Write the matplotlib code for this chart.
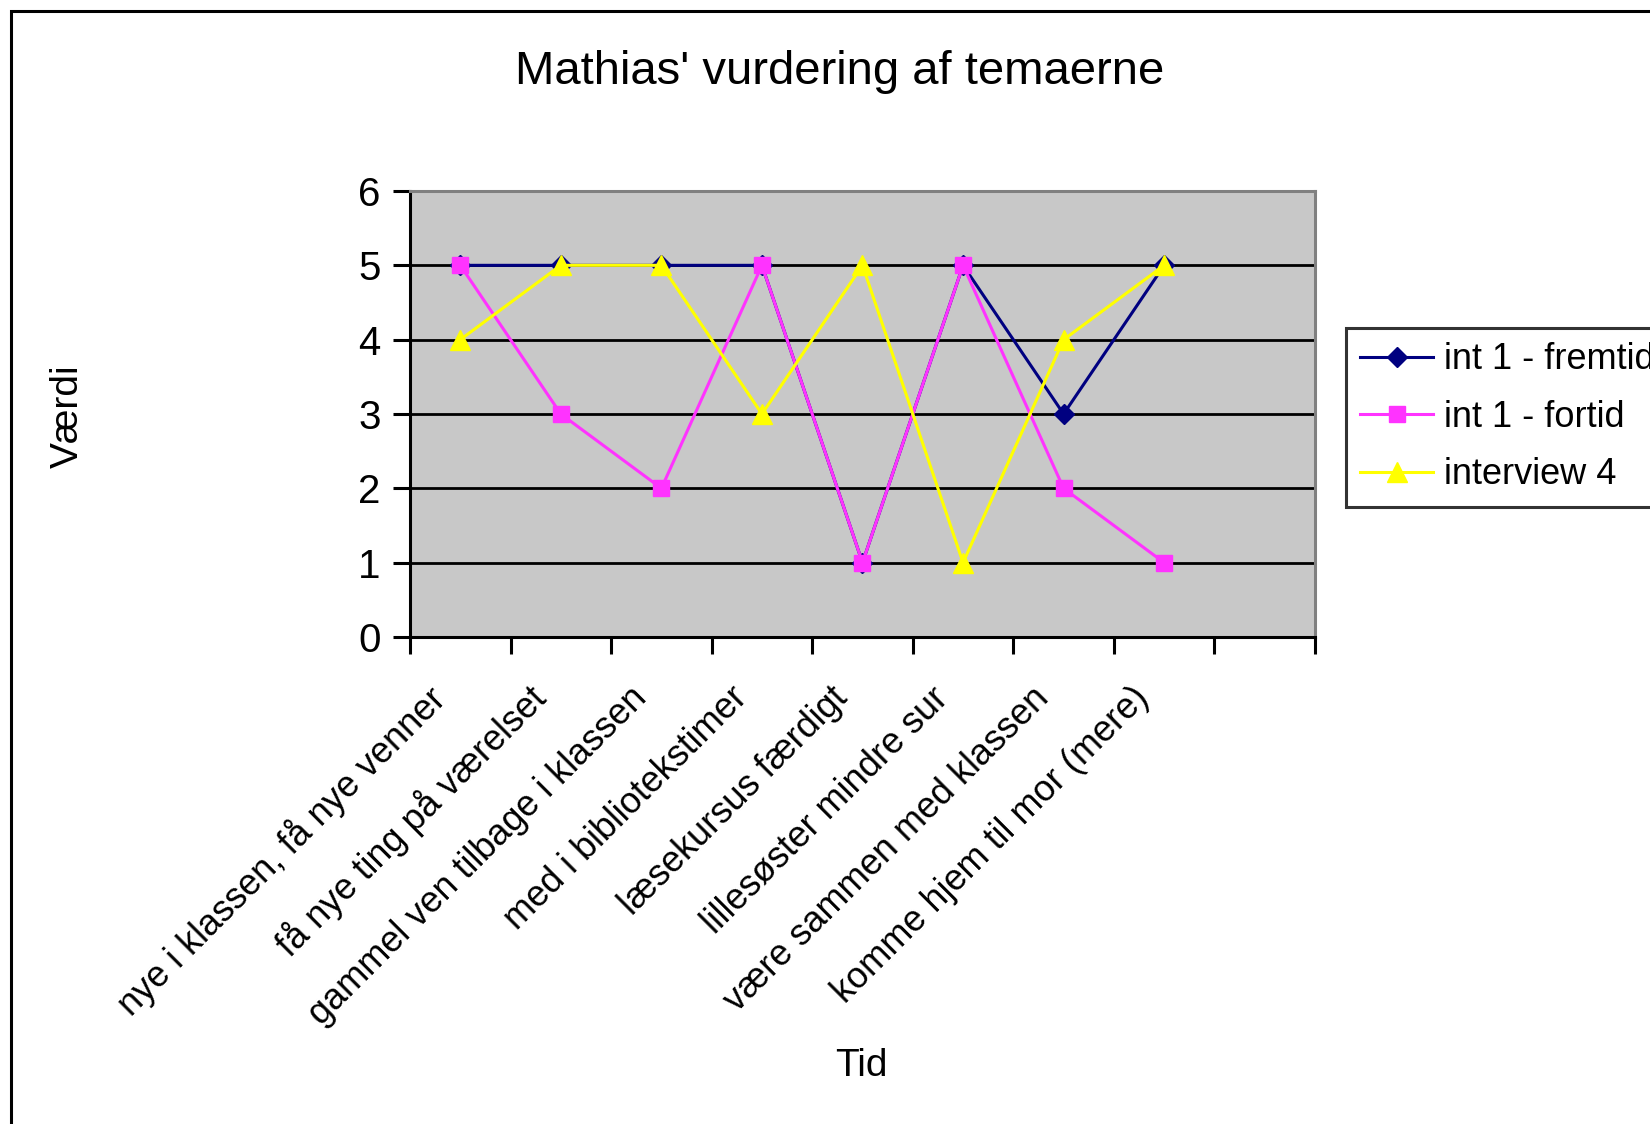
import numpy as np
import matplotlib
matplotlib.use('Agg')
import matplotlib.pyplot as plt
from matplotlib.patches import Rectangle

plt.rcParams['font.family'] = ['Liberation Sans', 'DejaVu Sans']

# categories (9 slots on the axis, last one empty)
categories = [
    'nye i klassen, få nye venner',
    'få nye ting på værelset',
    'gammel ven tilbage i klassen',
    'med i bibliotekstimer',
    'læsekursus færdigt',
    'lillesøster mindre sur',
    'være sammen med klassen',
    'komme hjem til mor (mere)',
]
n_slots = 9

fremtid = [5, 5, 5, 5, 1, 5, 3, 5]
fortid = [5, 3, 2, 5, 1, 5, 2, 1]
interview4 = [4, 5, 5, 3, 5, 1, 4, 5]

W, H = 1650, 1124
fig = plt.figure(figsize=(W / 100, H / 100), dpi=100)
fig.patch.set_facecolor('white')

# outer chart frame (cut at right and bottom)
fig.patches.append(Rectangle((11 / W, -0.1), 1.2, 1.1 - 11 / H, transform=fig.transFigure,
                             fill=False, edgecolor='black', linewidth=2.2))

ax = fig.add_axes([410 / W, 1 - 637 / H, (1315 - 410) / W, (637 - 191) / H])
ax.set_facecolor('#c8c8c8')

x = np.arange(len(categories)) + 0.5
ax.plot(x, fremtid, color='#000080', marker='D', markersize=10, linewidth=2.2,
        label='int 1 - fremtid', zorder=3)
ax.plot(x, fortid, color='#ff33ff', marker='s', markersize=12, linewidth=2.2,
        label='int 1 - fortid', zorder=4)
ax.plot(x, interview4, color='#ffff00', marker='^', markersize=14, linewidth=2.2,
        label='interview 4', zorder=5)

ax.set_xlim(0, n_slots)
ax.set_ylim(0, 6)
ax.set_yticks(range(0, 7))
ax.set_xticks(range(0, n_slots + 1))
ax.set_xticklabels([])
for yv in range(1, 6):
    ax.axhline(yv, color='black', linewidth=2, zorder=1)

for s in ['left', 'bottom']:
    ax.spines[s].set_color('black')
    ax.spines[s].set_linewidth(2.2)
for s in ['top', 'right']:
    ax.spines[s].set_color('#808080')
    ax.spines[s].set_linewidth(2.2)

ax.tick_params(axis='both', direction='out', length=12, width=2.2, color='black')
ax.tick_params(axis='y', labelsize=29, pad=9)

for xi, lab in zip(x, categories):
    ax.text(xi - 0.2, -0.75, lab, rotation=45, rotation_mode='anchor', ha='right',
            va='center', fontsize=26, transform=ax.transData)

fig.text(840 / W, 1 - 72 / H, "Mathias' vurdering af temaerne", ha='center', va='center',
         fontsize=34)
fig.text(68 / W, 1 - 416 / H, 'Værdi', rotation=90, ha='center', va='center', fontsize=28)
fig.text(861 / W, 1 - 1066 / H, 'Tid', ha='center', va='center', fontsize=28)

leg = fig.legend(loc='upper left', bbox_to_anchor=(1346 / W, 1 - 328 / H), fontsize=26,
                 frameon=True, fancybox=False, edgecolor='black', handlelength=2.0,
                 borderpad=0.4, labelspacing=0.62, handletextpad=0.3, borderaxespad=0)
leg.get_frame().set_linewidth(2.2)

fig.savefig('out.png', dpi=100)
